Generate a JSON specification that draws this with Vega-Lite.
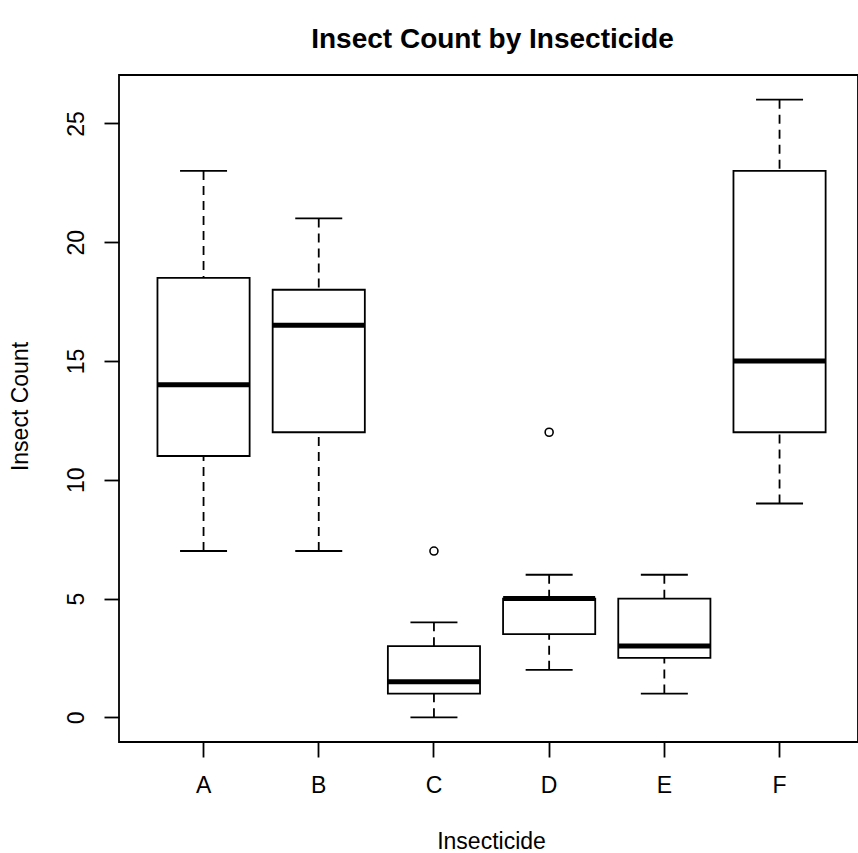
{
  "$schema": "https://vega.github.io/schema/vega-lite/v6.json",
  "autosize": {"type": "none"},
  "padding": {"left": 119, "top": 75, "right": 0, "bottom": 111},
  "width": 739,
  "height": 667,
  "background": "white",
  "title": {
    "text": "Insect Count by Insecticide",
    "font": "Liberation Sans",
    "fontSize": 28,
    "fontWeight": "bold",
    "color": "black",
    "offset": 21,
    "dx": 4
  },
  "config": {
    "view": {"stroke": "black", "strokeWidth": 1.8},
    "font": "Liberation Sans",
    "axis": {
      "labelFont": "Liberation Sans",
      "titleFont": "Liberation Sans",
      "labelColor": "black",
      "titleColor": "black",
      "labelFontSize": 23,
      "titleFontSize": 23,
      "titleFontWeight": "normal",
      "tickColor": "black",
      "tickWidth": 1.8,
      "tickSize": 15,
      "domain": false,
      "grid": false
    }
  },
  "datasets": {
    "boxes": [
      {"insecticide": "A", "min": 7, "q1": 11, "median": 14, "q3": 18.5, "max": 23},
      {"insecticide": "B", "min": 7, "q1": 12, "median": 16.5, "q3": 18, "max": 21},
      {"insecticide": "C", "min": 0, "q1": 1, "median": 1.5, "q3": 3, "max": 4},
      {"insecticide": "D", "min": 2, "q1": 3.5, "median": 5, "q3": 5, "max": 6},
      {"insecticide": "E", "min": 1, "q1": 2.5, "median": 3, "q3": 5, "max": 6},
      {"insecticide": "F", "min": 9, "q1": 12, "median": 15, "q3": 23, "max": 26}
    ],
    "outliers": [
      {"insecticide": "C", "count": 7},
      {"insecticide": "D", "count": 12}
    ]
  },
  "encoding": {
    "x": {
      "field": "insecticide",
      "type": "nominal",
      "scale": {
        "type": "band",
        "domain": ["A", "B", "C", "D", "E", "F"],
        "paddingInner": 0.2,
        "paddingOuter": 0.3075,
        "align": 0.543
      },
      "axis": {
        "title": "Insecticide",
        "labelAngle": 0,
        "labelPadding": 17,
        "bandPosition": 0.5,
        "titleY": 106,
        "titleX": 372,
        "titleBaseline": "alphabetic"
      }
    }
  },
  "layer": [
    {
      "data": {"name": "boxes"},
      "mark": {"type": "rule", "color": "black", "strokeWidth": 1.8, "strokeDash": [9, 6]},
      "encoding": {
        "y": {
          "field": "min",
          "type": "quantitative",
          "scale": {"domain": [-1.04, 27.04], "nice": false, "zero": false},
          "axis": {
            "title": "Insect Count",
            "values": [0, 5, 10, 15, 20, 25],
            "labelAngle": -90,
            "labelAlign": "center",
            "labelBaseline": "alphabetic",
            "labelPadding": 21,
            "titleX": -92,
            "titleY": 331,
            "titleAngle": -90,
            "titleAlign": "center",
            "titleBaseline": "alphabetic"
          }
        },
        "y2": {"field": "q1"}
      }
    },
    {
      "data": {"name": "boxes"},
      "mark": {"type": "rule", "color": "black", "strokeWidth": 1.8, "strokeDash": [9, 6]},
      "encoding": {
        "y": {"field": "max", "type": "quantitative"},
        "y2": {"field": "q3"}
      }
    },
    {
      "data": {"name": "boxes"},
      "mark": {"type": "tick", "color": "black", "size": 47, "thickness": 1.8, "orient": "horizontal", "opacity": 1},
      "encoding": {"y": {"field": "min", "type": "quantitative"}}
    },
    {
      "data": {"name": "boxes"},
      "mark": {"type": "tick", "color": "black", "size": 47, "thickness": 1.8, "orient": "horizontal", "opacity": 1},
      "encoding": {"y": {"field": "max", "type": "quantitative"}}
    },
    {
      "data": {"name": "boxes"},
      "mark": {"type": "bar", "fill": "white", "stroke": "black", "strokeWidth": 1.8},
      "encoding": {
        "y": {"field": "q1", "type": "quantitative"},
        "y2": {"field": "q3"}
      }
    },
    {
      "data": {"name": "boxes"},
      "mark": {"type": "tick", "color": "black", "size": 92, "thickness": 5, "orient": "horizontal", "opacity": 1},
      "encoding": {"y": {"field": "median", "type": "quantitative"}}
    },
    {
      "data": {"name": "outliers"},
      "mark": {"type": "point", "shape": "circle", "filled": false, "color": "black", "strokeWidth": 1.6, "size": 64, "opacity": 1},
      "encoding": {"y": {"field": "count", "type": "quantitative"}}
    }
  ]
}
